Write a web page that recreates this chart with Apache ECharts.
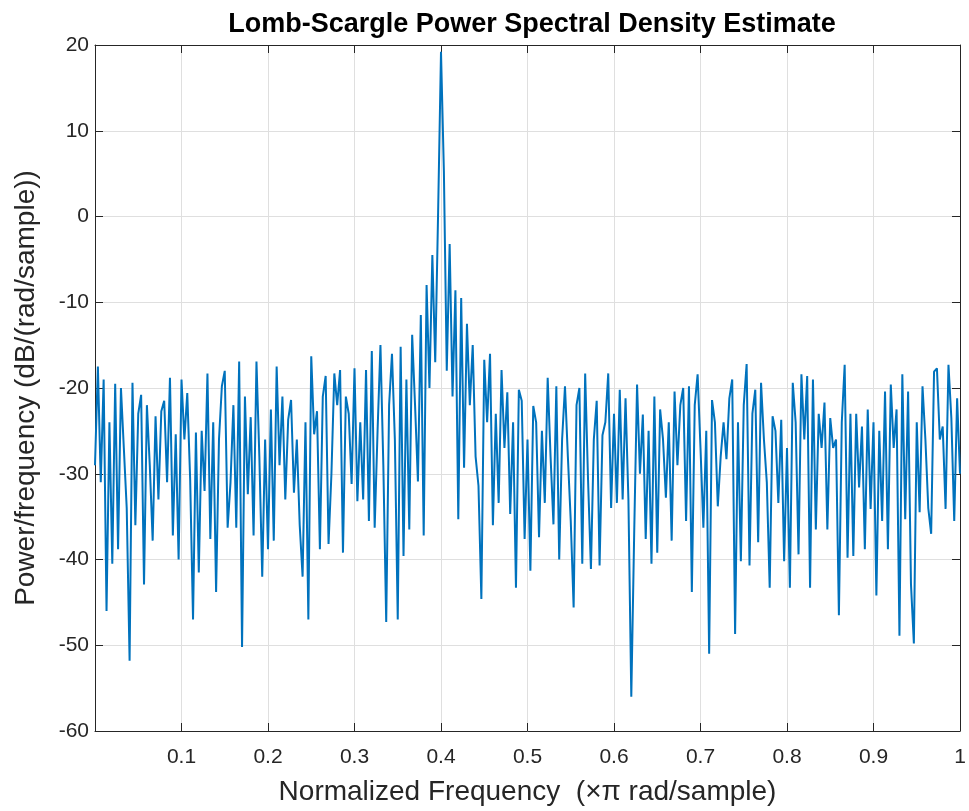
<!DOCTYPE html>
<html>
<head>
<meta charset="utf-8">
<script src="https://cdn.jsdelivr.net/npm/echarts/dist/echarts.min.js"></script>
<style>
html, body { margin: 0; padding: 0; background: #fff; }
#main { width: 969px; height: 811px; }
</style>
</head>
<body>
<div id="main"></div>
<script>
// PSD in dB/(rad/sample) on a uniform grid 0..1 (301 points)
var psdLow = [ // 0 .. 0.33
    -29, -17.5, -31, -19, -46, -24, -40.5, -19.5, -38.8, -20,
    -27, -34, -51.8, -19.4, -36, -23, -20.8, -42.9, -22, -29,
    -37.8, -23.3, -33, -22.7, -21.5, -31, -18.8, -37.2, -25.4, -40,
    -19, -26, -20.6, -30.6, -47, -25.2, -41.5, -25, -32, -18.3,
    -37.6, -24, -43.8, -26, -19.8, -18, -36.3, -31, -22, -36.3,
    -16.9, -50.2, -21, -32.4, -23.4, -37.2, -16.9, -28, -42, -26,
    -38.8, -22.5, -37.8, -17.5, -29, -21, -33, -23.7, -21.4, -32.2,
    -26, -36, -42, -24, -47, -16.3, -25.4, -22.7, -38.8, -21,
    -18.6, -38.2, -30, -18.3, -22, -17.9, -39.2, -21, -23, -31.2,
    -17.7, -33.2, -24, -33, -17.9, -35.5, -15.7, -36.3, -25, -15
];
var psdMid = [ // 0.333 .. 0.663
    -29, -47.3, -22, -16, -26, -47, -15.2, -39.6, -19, -36.5,
    -13.8, -22, -30.9, -11.5, -37.2, -8, -20, -4.5, -17, 0.5,
    19.2, 5.3, -18, -3.2, -21, -8.6, -35.3, -9.5, -29.3, -12.5,
    -22, -15, -28, -31.4, -44.6, -16.7, -24, -16, -36, -23,
    -33.4, -17.9, -27, -20.5, -34.7, -24, -43.3, -20.2, -21.5, -37.6,
    -26, -41.3, -22.1, -24, -37.4, -25, -33.4, -18.8, -28, -35.9,
    -19.8, -40, -26, -19.8, -28, -35.5, -45.6, -22, -20, -40.5,
    -18.3, -30.7, -41.1, -26, -21.5, -40.7, -25.5, -24, -18.3, -34,
    -23, -33.4, -20.2, -33, -21.2, -33, -56, -37, -19.6, -30,
    -23.1, -37.6, -25, -40.5, -21, -39.2, -22.5, -26, -32.8, -24
];
var psdHigh = [ // 0.667 .. 1
    -37.8, -20.4, -29, -22, -20, -35.5, -19.8, -43.8, -22, -18.4,
    -27, -36.3, -25, -51, -21.4, -24, -33.8, -28, -24, -28.3,
    -21.2, -19, -48.7, -24, -40.2, -22, -17.2, -40.7, -23, -20.2,
    -38, -19.4, -26, -31, -43.3, -23.3, -25, -33.4, -23.7, -40.2,
    -27, -43.3, -19.4, -24, -39.4, -18.4, -26, -18.6, -43.3, -19,
    -36.5, -23, -27, -21.7, -36.5, -23.5, -27, -26, -46.5, -24,
    -17.3, -39.8, -23, -39.6, -23, -31.6, -24.5, -38.8, -22.5, -34.1,
    -24, -44.2, -25, -35.5, -20.4, -38.8, -19.6, -27, -22.5, -48.9,
    -18.4, -35.3, -20.4, -42.9, -49.8, -24, -34.5, -19.8, -26, -34,
    -37, -18.1, -17.7, -26, -24.5, -34.1, -17.3, -23.5, -35.5, -21.2,
    -30
];
var psd = psdLow.concat(psdMid, psdHigh);
var freq = psd.map(function (v, i) { return i / (psd.length - 1); });

var xMin = 0, xMax = 1, xStep = 0.1;
var yMin = -60, yMax = 20, yStep = 10;

var fontName = '"Liberation Sans", Arial, sans-serif';
var axisColor = '#262626';
var gridColor = '#dfdfdf';

var myChart = echarts.init(document.getElementById('main'), null, { renderer: 'canvas' });

// top / right axes only close the box (MATLAB style), ticks pointing inward
function boxAxis(pos) {
    return {
        type: 'value',
        position: pos,
        min: pos === 'top' ? xMin : yMin,
        max: pos === 'top' ? xMax : yMax,
        interval: pos === 'top' ? xStep : yStep,
        axisLine: { show: true, onZero: false, lineStyle: { color: axisColor, width: 1 } },
        axisTick: { show: true, inside: true, length: 8, lineStyle: { color: axisColor } },
        axisLabel: { show: false },
        splitLine: { show: false }
    };
}

var option = {
    animation: false,
    backgroundColor: '#fff',
    title: {
        text: 'Lomb-Scargle Power Spectral Density Estimate',
        left: 527,
        top: 6,
        textAlign: 'center',
        textStyle: { fontFamily: fontName, fontSize: 27, fontWeight: 'bold', color: '#000' }
    },
    grid: { left: 95, right: 9, top: 45, bottom: 80 },
    xAxis: [{
        type: 'value',
        position: 'bottom',
        min: xMin,
        max: xMax,
        interval: xStep,
        name: 'Normalized Frequency  (\u00d7\u03c0 rad/sample)',
        nameLocation: 'middle',
        nameGap: 47,
        nameTextStyle: { fontFamily: fontName, fontSize: 28, color: axisColor },
        axisLine: { show: true, onZero: false, lineStyle: { color: axisColor, width: 1 } },
        axisTick: { show: true, inside: true, length: 8, lineStyle: { color: axisColor } },
        axisLabel: {
            margin: 16,
            fontFamily: fontName,
            fontSize: 21,
            color: axisColor,
            showMaxLabel: true,
            formatter: function (v) { return v === 0 ? '' : String(+v.toFixed(1)); }
        },
        splitLine: { show: true, lineStyle: { color: gridColor, width: 1 } }
    }, boxAxis('top')],
    yAxis: [{
        type: 'value',
        position: 'left',
        min: yMin,
        max: yMax,
        interval: yStep,
        name: 'Power/frequency (dB/(rad/sample))',
        nameLocation: 'middle',
        nameGap: 55,
        nameTextStyle: { fontFamily: fontName, fontSize: 28, color: axisColor },
        axisLine: { show: true, onZero: false, lineStyle: { color: axisColor, width: 1 } },
        axisTick: { show: true, inside: true, length: 8, lineStyle: { color: axisColor } },
        axisLabel: { margin: 6, fontFamily: fontName, fontSize: 21, color: axisColor },
        splitLine: { show: true, lineStyle: { color: gridColor, width: 1 } }
    }, boxAxis('right')],
    series: [{
        type: 'line',
        xAxisIndex: 0,
        yAxisIndex: 0,
        showSymbol: false,
        data: freq.map(function (f, i) { return [f, psd[i]]; }),
        lineStyle: { color: '#0072BD', width: 2 },
        itemStyle: { color: '#0072BD' }
    }]
};

myChart.setOption(option);
</script>
</body>
</html>
